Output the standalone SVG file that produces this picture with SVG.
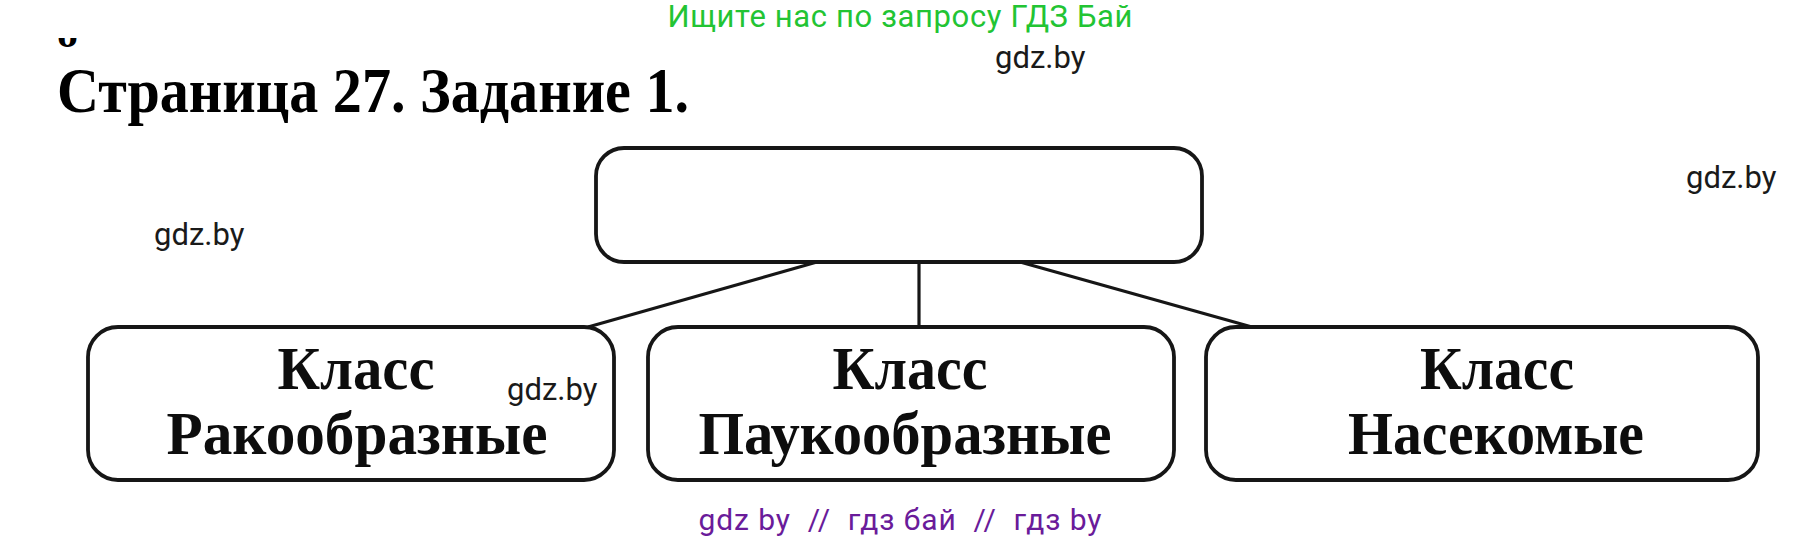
<svg xmlns="http://www.w3.org/2000/svg" width="1803" height="542" viewBox="0 0 1803 542">
<defs>
<style>
.box{fill:#fff;stroke:#161616;stroke-width:3.8}
.conn{stroke:#161616;stroke-width:3.2;fill:none}
.lbl{font-family:"Liberation Serif","Times New Roman",serif;font-weight:bold;font-size:61px;fill:#0d0d0d;text-anchor:middle}
.wm{font-family:Roboto,"Liberation Sans",sans-serif;font-size:31px;fill:#1a1a1a}
</style>
<clipPath id="frag"><rect x="52" y="38" width="32" height="10"/></clipPath>
</defs>
<rect width="1803" height="542" fill="#fff"/>
<g id="header">
<text x="900" y="27" fill="#22c433" font-family="Roboto, 'Liberation Sans', sans-serif" font-size="31" text-anchor="middle" textLength="465">Ищите нас по запросу ГДЗ Бай</text>
<text clip-path="url(#frag)" x="57" y="47" font-family="'Liberation Serif', serif" font-weight="bold" font-size="42" fill="#000">о</text>
<text x="57" y="112" font-family="'Liberation Serif', 'Times New Roman', serif" font-weight="bold" font-size="64" fill="#000" textLength="632" lengthAdjust="spacingAndGlyphs">Страница 27. Задание 1.</text>
</g>
<g id="connectors">
<line class="conn" x1="817" y1="262" x2="588" y2="327"/>
<line class="conn" x1="919" y1="262" x2="919" y2="327"/>
<line class="conn" x1="1020" y1="262" x2="1252" y2="327"/>
</g>
<g id="node-top">
<rect class="box" x="596" y="148" width="606" height="114" rx="28"/>
</g>
<g id="node-crustaceans">
<rect class="box" x="88" y="327" width="526" height="153" rx="30"/>
<text class="lbl" x="356" y="389" textLength="157" lengthAdjust="spacingAndGlyphs">Класс</text>
<text class="lbl" x="357" y="454" textLength="381" lengthAdjust="spacingAndGlyphs">Ракообразные</text>
</g>
<g id="node-arachnids">
<rect class="box" x="648" y="327" width="526" height="153" rx="30"/>
<text class="lbl" x="910" y="389" textLength="155" lengthAdjust="spacingAndGlyphs">Класс</text>
<text class="lbl" x="905" y="454" textLength="413" lengthAdjust="spacingAndGlyphs">Паукообразные</text>
</g>
<g id="node-insects">
<rect class="box" x="1206" y="327" width="552" height="153" rx="30"/>
<text class="lbl" x="1497" y="389" textLength="154" lengthAdjust="spacingAndGlyphs">Класс</text>
<text class="lbl" x="1496" y="454" textLength="296" lengthAdjust="spacingAndGlyphs">Насекомые</text>
</g>
<g id="watermarks">
<text class="wm" x="995" y="68">gdz.by</text>
<text class="wm" x="1686" y="188">gdz.by</text>
<text class="wm" x="154" y="245">gdz.by</text>
<text class="wm" x="507" y="400">gdz.by</text>
<text x="900" y="530" fill="#6a1b9a" font-family="Roboto, 'Liberation Sans', sans-serif" font-size="30" text-anchor="middle" textLength="403" xml:space="preserve">gdz by  //  гдз бай  //  гдз by</text>
</g>
</svg>
